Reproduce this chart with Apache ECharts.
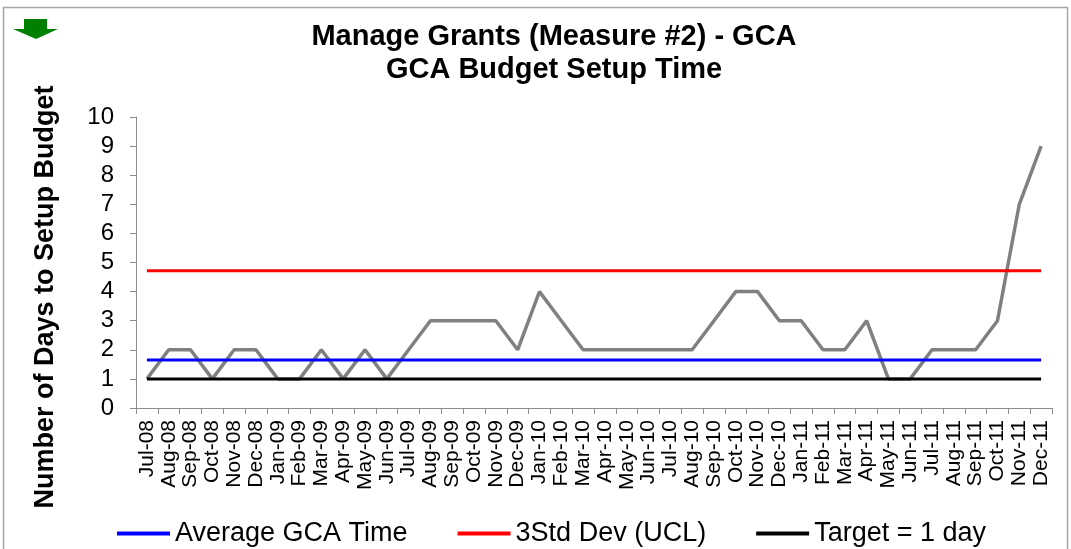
<!DOCTYPE html>
<html>
<head>
<meta charset="utf-8">
<title>GCA Budget Setup Time</title>
<script src="https://cdn.jsdelivr.net/npm/echarts@6/dist/echarts.min.js"></script>
<style>
  html, body { margin: 0; padding: 0; background: #fff; }
  #chart { width: 1071px; height: 549px; }
</style>
</head>
<body>
<div id="chart"></div>
<script>
// months Jul-08 .. Dec-11
const months = [
  'Jul-08', 'Aug-08', 'Sep-08', 'Oct-08', 'Nov-08', 'Dec-08',
  'Jan-09', 'Feb-09', 'Mar-09', 'Apr-09', 'May-09', 'Jun-09',
  'Jul-09', 'Aug-09', 'Sep-09', 'Oct-09', 'Nov-09', 'Dec-09',
  'Jan-10', 'Feb-10', 'Mar-10', 'Apr-10', 'May-10', 'Jun-10',
  'Jul-10', 'Aug-10', 'Sep-10', 'Oct-10', 'Nov-10', 'Dec-10',
  'Jan-11', 'Feb-11', 'Mar-11', 'Apr-11', 'May-11', 'Jun-11',
  'Jul-11', 'Aug-11', 'Sep-11', 'Oct-11', 'Nov-11', 'Dec-11'
];

// days to setup budget per month
const setupDays = [
  1, 2, 2, 1, 2, 2,
  1, 1, 2, 1, 2, 1,
  2, 3, 3, 3, 3, 2,
  4, 3, 2, 2, 2, 2,
  2, 2, 3, 4, 4, 3,
  3, 2, 2, 3, 1, 1,
  2, 2, 2, 3, 7, 9
];

// reference levels
const avgTime = 1.65;
const uclLimit = 4.72;
const targetDays = 1;

const yTicks = [0, 10, 1]; // min, max, interval

const chart = echarts.init(document.getElementById('chart'));

const font = '"Liberation Sans", Arial, sans-serif';
const flat = v => months.map(() => v);

const option = {
  animation: false,
  title: {
    text: 'Manage Grants (Measure #2) - GCA\nGCA Budget Setup Time',
    left: 549,
    top: 15,
    textAlign: 'center',
    textStyle: {
      fontFamily: font,
      fontSize: 29,
      fontWeight: 'bold',
      lineHeight: 33,
      color: '#000'
    }
  },
  legend: {
    data: ['Average GCA Time', '3Std Dev (UCL)', 'Target = 1 day'],
    left: 117,
    top: 520,
    padding: 0,
    icon: 'rect',
    itemWidth: 53,
    itemHeight: 4,
    itemGap: 50,
    textStyle: { fontFamily: font, fontSize: 27, color: '#000' }
  },
  grid: {
    left: 136,
    right: 19,
    top: 117,
    bottom: 141,
    containLabel: false
  },
  xAxis: {
    type: 'category',
    data: months,
    boundaryGap: true,
    axisLine: { lineStyle: { color: '#8c8c8c', width: 1 } },
    axisTick: { show: true, length: 6, lineStyle: { color: '#8c8c8c' } },
    axisLabel: {
      interval: 0,
      rotate: 90,
      margin: 12,
      fontFamily: font,
      fontSize: 21,
      color: '#000'
    },
    splitLine: { show: false }
  },
  yAxis: {
    type: 'value',
    min: yTicks[0],
    max: yTicks[1],
    interval: yTicks[2],
    axisLine: { show: true, lineStyle: { color: '#8c8c8c', width: 1 } },
    axisTick: { show: true, length: 6, lineStyle: { color: '#8c8c8c' } },
    axisLabel: {
      margin: 22,
      fontFamily: font,
      fontSize: 24,
      color: '#000'
    },
    splitLine: { show: false }
  },
  series: [
    {
      name: 'Setup Days',
      type: 'line',
      data: setupDays,
      symbol: 'none',
      lineStyle: { color: '#808080', width: 3.5 },
      itemStyle: { color: '#808080' }
    },
    {
      name: 'Average GCA Time',
      type: 'line',
      data: flat(avgTime),
      symbol: 'none',
      lineStyle: { color: '#0000ff', width: 3 },
      itemStyle: { color: '#0000ff' }
    },
    {
      name: '3Std Dev (UCL)',
      type: 'line',
      data: flat(uclLimit),
      symbol: 'none',
      lineStyle: { color: '#ff0000', width: 3 },
      itemStyle: { color: '#ff0000' }
    },
    {
      name: 'Target = 1 day',
      type: 'line',
      data: flat(targetDays),
      symbol: 'none',
      lineStyle: { color: '#000000', width: 3 },
      itemStyle: { color: '#000000' }
    }
  ],
  graphic: [
    // chart frame
    {
      type: 'rect',
      shape: { x: 3.5, y: 7.5, width: 1064, height: 580 },
      style: { fill: 'none', stroke: '#a6a6a6', lineWidth: 1.5 },
      silent: true
    },
    // green down arrow
    {
      type: 'polygon',
      shape: {
        points: [[24, 19], [47, 19], [47, 29], [58, 29], [36, 39], [13, 29], [24, 29]]
      },
      style: { fill: '#008000' },
      silent: true
    },
    // y axis title
    {
      type: 'text',
      x: 46,
      y: 297,
      rotation: Math.PI / 2,
      style: {
        text: 'Number of Days to Setup Budget',
        font: 'bold 27px ' + font,
        fill: '#000',
        textAlign: 'center',
        textVerticalAlign: 'middle'
      },
      silent: true
    }
  ]
};

chart.setOption(option);
</script>
</body>
</html>
